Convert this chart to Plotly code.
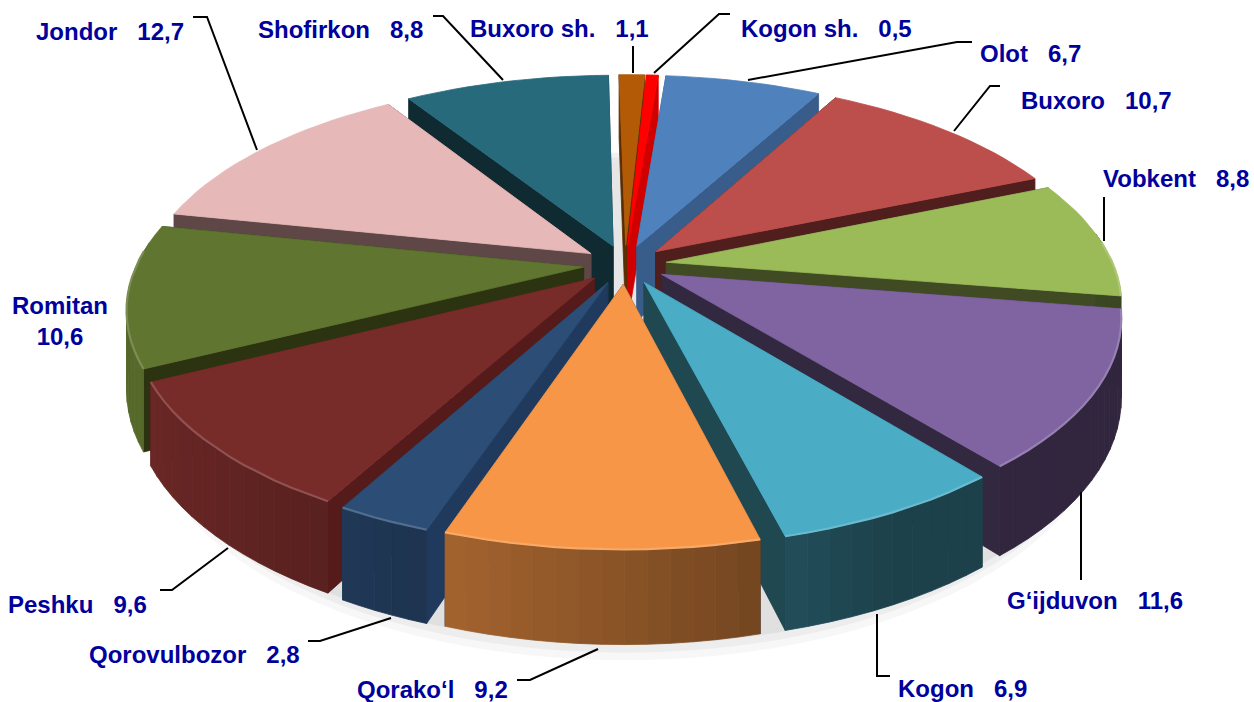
import math
import plotly.graph_objects as go

# ---- data, clockwise from the top ----
names = ["Buxoro sh.", "Kogon sh.", "Olot", "Buxoro", "Vobkent", "G‘ijduvon", "Kogon",
         "Qorako‘l", "Qorovulbozor", "Peshku", "Romitan", "Jondor", "Shofirkon"]
values = [1.1, 0.5, 6.7, 10.7, 8.8, 11.6, 6.9, 9.2, 2.8, 9.6, 10.6, 12.7, 8.8]
top_colors = ["#B25A06", "#FF0000", "#4F81BD", "#BC4F4B", "#9BBB59", "#8064A2", "#4BACC6",
              "#F79646", "#2C4D75", "#772C2A", "#5F7530", "#E6B9B8", "#276A7C"]
cut_colors = ["#5A2D03", "#D00000", "#385D8A", "#511E1E", "#414B23", "#32283F", "#1F4850",
              "#1F3A5C", "#1F3A5C", "#551B1B", "#2C3311", "#5E4746", "#102A31"]

# ---- label layout: (left x, middle y) in page pixels ----
label_pos = [(468, 28), (739, 28), (978, 53), (1019, 100), (1101, 178), (1005, 600), (896, 688),
             (355, 689), (87, 654), (6, 604), (10, 321), (34, 31), (256, 29)]
leaders = [
    [(633, 46), (633, 73)],
    [(730, 14), (719, 14), (654, 73)],
    [(972, 42), (957, 42), (748, 80)],
    [(1000, 86), (990, 86), (954, 131)],
    [(1104, 197), (1104, 241)],
    [(1081, 492), (1081, 580)],
    [(877, 614), (877, 676), (890, 676)],
    [(598, 649), (530, 680), (517, 680)],
    [(391, 618), (320, 641), (308, 641)],
    [(228, 548), (172, 590), (160, 590)],
    [(193, 17), (207, 17), (257, 150)],
    [(433, 16), (443, 16), (503, 80)],
]

# ---- projection of the tilted pie onto the page ----
CX, CY = 625, 264.5
RX, RY = 463, 216
PERSP = 0.19
H = 76
PULL = 0.09
RIM = 0.965
START = math.radians(-1)


def project(x, y, z=0.0):
    s = 1 / (1 + PERSP * y)
    return CX + RX * x * s, CY - RY * y * s + H * z * s


def mix(hex_color, target, t):
    c = [int(hex_color[i:i + 2], 16) for i in (1, 3, 5)]
    return "rgb(" + ",".join(str(round(v + (target - v) * t)) for v in c) + ")"


def poly(pts, color, hover=None, line=None):
    return go.Scatter(
        x=[p[0] for p in pts] + [pts[0][0]], y=[p[1] for p in pts] + [pts[0][1]],
        mode="lines", fill="toself", fillcolor=color,
        line=dict(color=line or color, width=0.8),
        hoverinfo="text" if hover else "skip", text=hover, showlegend=False,
    )


fig = go.Figure()

# soft ground shadow and floor seen through the gaps
circle = [2 * math.pi * i / 120 for i in range(120)]
for off, alpha in ((0.30, 0.03), (0.22, 0.04), (0.14, 0.05)):
    pts = [project(1.02 * math.sin(a), 1.02 * math.cos(a), 1 + off) for a in circle]
    fig.add_trace(poly(pts, f"rgba(0,0,0,{alpha})", line="rgba(0,0,0,0)"))
fig.add_trace(poly([project(0.9 * math.sin(a), 0.9 * math.cos(a), 1) for a in circle], "#E6E6E6"))

total = sum(values)
slices = []
acc = 0.0
for i, v in enumerate(values):
    a0 = START + 2 * math.pi * acc / total
    a1 = START + 2 * math.pi * (acc + v) / total
    acc += v
    mid = (a0 + a1) / 2
    slices.append((math.cos(mid), i, a0, a1, mid))

# far slices first, near slices over them
for _, i, a0, a1, mid in sorted(slices, reverse=True):
    ox, oy = PULL * math.sin(mid), PULL * math.cos(mid)
    n = max(2, math.ceil((a1 - a0) / math.radians(2.5)))
    angles = [a0 + (a1 - a0) * k / n for k in range(n + 1)]
    rim = [(ox + RIM * math.sin(a), oy + RIM * math.cos(a)) for a in angles]

    # cut faces
    for px, py in (rim[0], rim[-1]):
        fig.add_trace(poly([project(ox, oy), project(px, py), project(px, py, 1), project(ox, oy, 1)],
                           cut_colors[i]))
    # outer wall in graded strips
    for k in range(n):
        (x0, y0), (x1, y1) = rim[k], rim[k + 1]
        if math.cos((angles[k] + angles[k + 1]) / 2) > 0.12:
            continue
        f = min(0.9, max(0.38, 0.55 - 0.36 * (x0 + x1) / 2))
        fig.add_trace(poly([project(x0, y0), project(x1, y1), project(x1, y1, 1), project(x0, y0, 1)],
                           mix(top_colors[i], 0, 1 - f)))
    # top face
    top = [project(ox, oy)] + [project(x, y) for x, y in rim]
    fig.add_trace(poly(top, top_colors[i], hover=f"{names[i]} {str(values[i]).replace('.', ',')}"))
    # bevel highlight along the visible rim
    front = [project(x, y) for (x, y), a in zip(rim, angles) if math.cos(a) < 0.1]
    if len(front) > 1:
        fig.add_trace(go.Scatter(x=[p[0] for p in front], y=[p[1] for p in front], mode="lines",
                                 line=dict(color=mix(top_colors[i], 255, 0.18), width=2.2),
                                 hoverinfo="skip", showlegend=False))

shapes = [dict(type="path", xref="x", yref="y", layer="above",
               path="M " + " L ".join(f"{x},{y}" for x, y in seg),
               line=dict(color="#000000", width=2)) for seg in leaders]

sep = "\u00a0\u00a0\u00a0"
annotations = []
for name, v, (lx, ly) in zip(names, values, label_pos):
    val = str(v).replace(".", ",")
    if name == "Romitan":
        text, align = f"{name}<br>{val}", "center"
    else:
        text, align = f"{name}{sep}{val}", "left"
    annotations.append(dict(x=lx, y=ly, xref="x", yref="y", text=text, align=align, showarrow=False,
                            xanchor="left", yanchor="middle",
                            font=dict(family="Liberation Sans", size=24, color="#00009C",
                                      weight="bold")))

fig.update_layout(
    width=1254, height=702, margin=dict(l=0, r=0, t=0, b=0),
    paper_bgcolor="white", plot_bgcolor="white",
    xaxis=dict(visible=False, range=[0, 1254], fixedrange=True),
    yaxis=dict(visible=False, range=[702, 0], fixedrange=True),
    shapes=shapes, annotations=annotations, showlegend=False,
)
fig.write_html("out.html", config=dict(displayModeBar=False),
               post_script="document.body.style.margin='0';document.documentElement.style.overflow='hidden';")
